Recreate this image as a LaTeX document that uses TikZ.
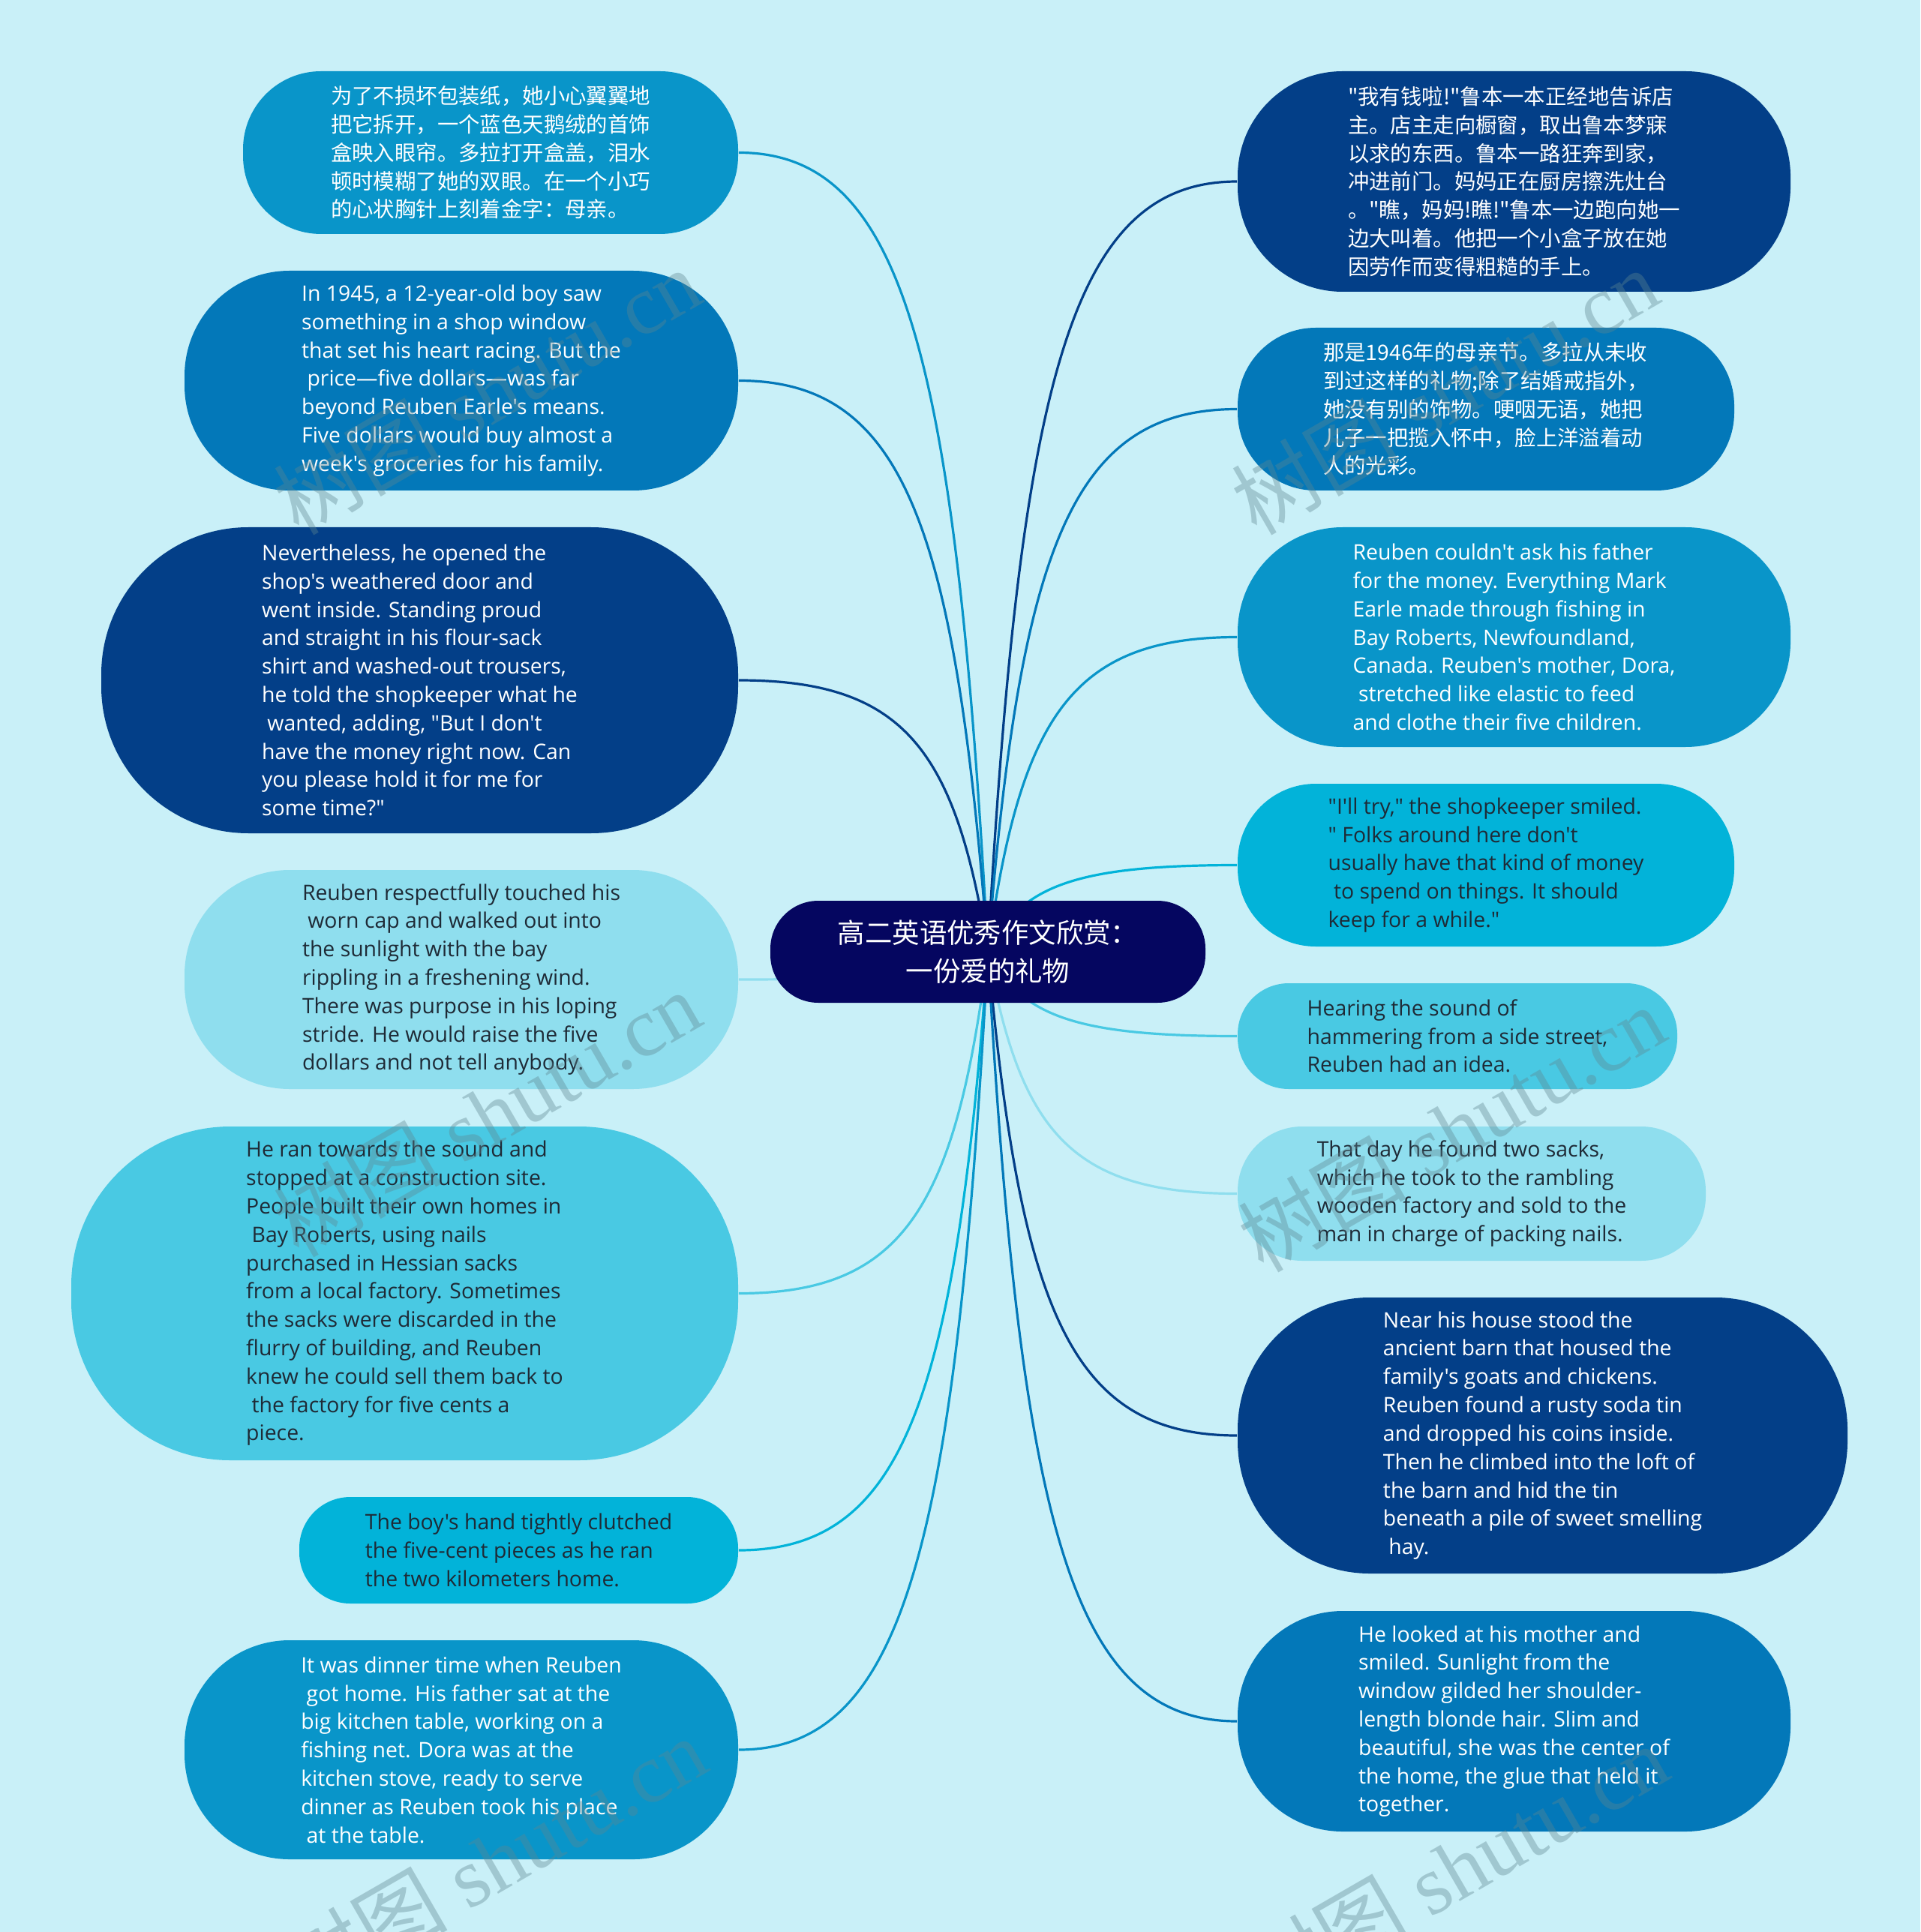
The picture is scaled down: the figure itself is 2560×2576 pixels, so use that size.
\documentclass[tikz,border=0pt]{standalone}
\usepackage{fontspec}
\newfontfamily\cjk{Noto Sans CJK SC}
\newfontfamily\en{Open Sans}
\newfontfamily\wmser{Liberation Serif}
\usetikzlibrary{calc}
\pgfdeclarelayer{back}
\pgfdeclarelayer{bg}
\pgfsetlayers{back,bg,main}
\definecolor{bgc}{HTML}{C9F0F8}
\definecolor{cNavy}{HTML}{033F88}
\definecolor{cBlue}{HTML}{0378B9}
\definecolor{cMid}{HTML}{0995C9}
\definecolor{cCyan}{HTML}{02B3D9}
\definecolor{cSky}{HTML}{49C9E3}
\definecolor{cPale}{HTML}{8FDEEE}
\definecolor{cRoot}{HTML}{050660}
\definecolor{txd}{HTML}{1E2A36}
\definecolor{wmc}{HTML}{5F8690}
\tikzset{
  sz/.style n args={3}{minimum width=#1pt, minimum height=#2pt, rounded corners=#3pt, inner sep=0pt, align=left},
  entxt/.style={font=\en\fontsize{7.1}{9.45}\selectfont},
  cntxt/.style={font=\cjk\fontsize{7.1}{9.45}\selectfont},
  lt/.style={text=white},
  dk/.style={text=txd},
  link/.style={line width=0.8pt},
  wm/.style={text=wmc, text opacity=0.38, font=\cjk\fontsize{28}{30}\selectfont, inner sep=0pt},
}
\newcommand\ls{\hspace*{0.26em}}
\begin{document}
\begin{tikzpicture}[x=0.25pt,y=-0.25pt]
\begin{pgfonlayer}{back}
\fill[bgc] (0,0) rectangle (2560,2576);
\end{pgfonlayer}
\useasboundingbox (0,0) rectangle (2560,2576);

% root
\node[sz={145}{34}{16}, fill=cRoot, text=white, align=center, font=\cjk\fontsize{9.1}{12.75}\selectfont] (C) at (1317,1269) {高二英语优秀作文欣赏：\\一份爱的礼物};

% left branches
\node[sz={165}{54.25}{26}, fill=cMid, cntxt, lt] (L1) at (654,203.5) {为了不损坏包装纸，她小心翼翼地\\把它拆开，一个蓝色天鹅绒的首饰\\盒映入眼帘。多拉打开盒盖，泪水\\顿时模糊了她的双眼。在一个小巧\\的心状胸针上刻着金字：母亲。};

\node[sz={184.5}{73.25}{35}, fill=cBlue, entxt, lt] (L2) at (615,507.5) {In 1945, a 12-year-old boy saw\\something in a shop window\\that set his heart racing. But the\\\ls price—five dollars—was far\\beyond Reuben Earle's means.\\Five dollars would buy almost a\\week's groceries for his family.};

\node[sz={212.25}{102}{49}, fill=cNavy, entxt, lt] (L3) at (559.5,907) {Nevertheless, he opened the\\shop's weathered door and\\went inside. Standing proud\\and straight in his flour-sack\\shirt and washed-out trousers,\\he told the shopkeeper what he\\\ls wanted, adding, "But I don't\\have the money right now. Can\\you please hold it for me for\\some time?"};

\node[sz={184.5}{73}{35}, fill=cPale, entxt, dk] (L4) at (615,1306) {Reuben respectfully touched his\\\ls worn cap and walked out into\\the sunlight with the bay\\rippling in a freshening wind.\\There was purpose in his loping\\stride. He would raise the five\\dollars and not tell anybody.};

\node[sz={222.25}{111.25}{53}, fill=cSky, entxt, dk] (L5) at (539.5,1724.5) {He ran towards the sound and\\stopped at a construction site.\\People built their own homes in\\\ls Bay Roberts, using nails\\purchased in Hessian sacks\\from a local factory. Sometimes\\the sacks were discarded in the\\flurry of building, and Reuben\\knew he could sell them back to\\\ls the factory for five cents a\\piece.};

\node[sz={146.25}{35.5}{17}, fill=cCyan, entxt, dk] (L6) at (691.5,2067) {The boy's hand tightly clutched\\the five-cent pieces as he ran\\the two kilometers home.};

\node[sz={184.5}{73}{35}, fill=cMid, entxt, lt] (L7) at (615,2333) {It was dinner time when Reuben\\\ls got home. His father sat at the\\big kitchen table, working on a\\fishing net. Dora was at the\\kitchen stove, ready to serve\\dinner as Reuben took his place\\\ls at the table.};

% right branches
\node[sz={184.25}{73.5}{35}, fill=cNavy, cntxt, lt] (R1) at (2018.5,242) {"我有钱啦!"鲁本一本正经地告诉店\\主。店主走向橱窗，取出鲁本梦寐\\以求的东西。鲁本一路狂奔到家，\\冲进前门。妈妈正在厨房擦洗灶台\\。"瞧，妈妈!瞧!"鲁本一边跑向她一\\边大叫着。他把一个小盒子放在她\\因劳作而变得粗糙的手上。};

\node[sz={165.5}{54.25}{26}, fill=cBlue, cntxt, lt] (R2) at (1981,545.5) {那是1946年的母亲节。多拉从未收\\到过这样的礼物;除了结婚戒指外，\\她没有别的饰物。哽咽无语，她把\\儿子一把揽入怀中，脸上洋溢着动\\人的光彩。};

\node[sz={184.25}{73.25}{35}, fill=cMid, entxt, lt] (R3) at (2018.5,849.5) {Reuben couldn't ask his father\\for the money. Everything Mark\\Earle made through fishing in\\Bay Roberts, Newfoundland,\\Canada. Reuben's mother, Dora,\\\ls stretched like elastic to feed\\and clothe their five children.};

\node[sz={165.5}{54.25}{26}, fill=cCyan, entxt, dk] (R4) at (1981,1153.5) {"I'll try," the shopkeeper smiled.\\" Folks around here don't\\usually have that kind of money\\\ls to spend on things. It should\\keep for a while."};

\node[sz={146.5}{35.25}{17}, fill=cSky, entxt, dk] (R5) at (1943,1381.5) {Hearing the sound of\\hammering from a side street,\\Reuben had an idea.};

\node[sz={156}{44.75}{21.5}, fill=cPale, entxt, dk] (R6) at (1962,1591.5) {That day he found two sacks,\\which he took to the rambling\\wooden factory and sold to the\\man in charge of packing nails.};

\node[sz={203.25}{92}{44}, fill=cNavy, entxt, lt] (R7) at (2056.5,1914) {Near his house stood the\\ancient barn that housed the\\family's goats and chickens.\\Reuben found a rusty soda tin\\and dropped his coins inside.\\Then he climbed into the loft of\\the barn and hid the tin\\beneath a pile of sweet smelling\\\ls hay.};

\node[sz={184.25}{73.5}{35}, fill=cBlue, entxt, lt] (R8) at (2018.5,2295) {He looked at his mother and\\smiled. Sunlight from the\\window gilded her shoulder-\\length blonde hair. Slim and\\beautiful, she was the center of\\the home, the glue that held it\\together.};

% connectors
\begin{pgfonlayer}{bg}
\foreach \nd/\an/\cl in {L1/east/cMid, L2/east/cBlue, L3/east/cNavy, L4/east/cPale, L5/east/cSky, L6/east/cCyan, L7/east/cMid, R1/west/cNavy, R2/west/cBlue, R3/west/cMid, R4/west/cCyan, R5/west/cSky, R6/west/cPale, R7/west/cNavy, R8/west/cBlue}{
  \draw[link, draw=\cl] let \p0=(C.center), \p3=(\nd.\an) in
    (\p0) .. controls ({\x0+0.13*(\x3-\x0)},{\y0+0.75*(\y3-\y0)}) and ({\x0+0.34*(\x3-\x0)},{\y3}) .. (\p3);
}
\end{pgfonlayer}

% watermarks
\node[wm, rotate=30] (W1) at (649,522) {树图\wmser{} shutu.cn};
\node[wm, rotate=30] (W2) at (1926,522) {树图\wmser{} shutu.cn};
\node[wm, rotate=30] (W3) at (649,1485) {树图\wmser{} shutu.cn};
\node[wm, rotate=30] (W4) at (1935,1505) {树图\wmser{} shutu.cn};
\node[wm, rotate=30] (W5) at (657,2480) {树图\wmser{} shutu.cn};
\node[wm, rotate=30] (W6) at (1939,2490) {树图\wmser{} shutu.cn};
\end{tikzpicture}
\end{document}
